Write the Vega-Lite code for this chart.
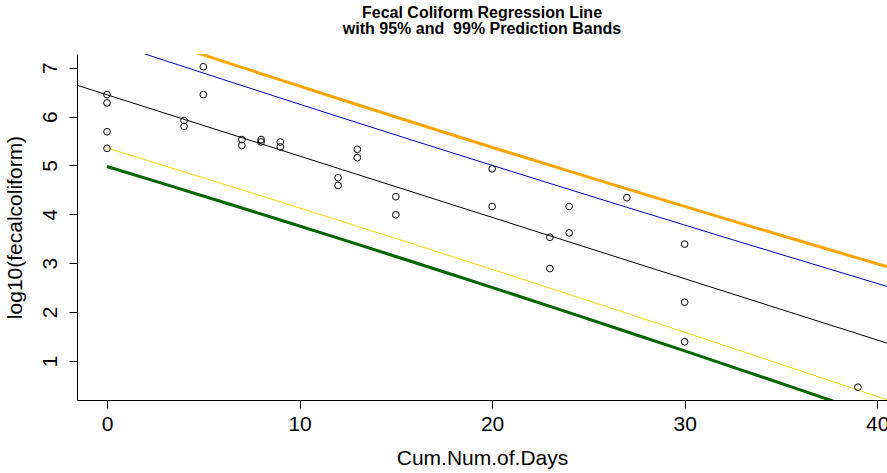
{
  "$schema": "https://vega.github.io/schema/vega-lite/v6.json",
  "autosize": {"type": "none"},
  "padding": {"left": 77, "top": 54, "right": 0, "bottom": 73},
  "width": 810,
  "height": 346,
  "background": "white",
  "config": {
    "view": {"stroke": null},
    "font": "Liberation Sans",
    "axis": {
      "grid": false,
      "domainColor": "black",
      "tickColor": "black",
      "labelColor": "black",
      "titleColor": "black",
      "labelFont": "Liberation Sans",
      "titleFont": "Liberation Sans",
      "labelFontSize": 21,
      "titleFontSize": 21,
      "titleFontWeight": "normal",
      "tickSize": 8,
      "labelBound": false,
      "labelFlush": false,
      "labelOverlap": false
    }
  },
  "title": {
    "text": ["Fecal Coliform Regression Line", "with 95% and \u00a099% Prediction Bands"],
    "font": "Liberation Sans",
    "fontSize": 16,
    "fontWeight": "bold",
    "color": "black",
    "anchor": "middle",
    "frame": "group",
    "baseline": "bottom",
    "lineHeight": 16,
    "offset": 1
  },
  "datasets": {
    "pts": [
      {"days": 0, "logfc": 6.45}, {"days": 0, "logfc": 6.28}, {"days": 0, "logfc": 5.69}, {"days": 0, "logfc": 5.35},
      {"days": 4, "logfc": 5.92}, {"days": 4, "logfc": 5.80},
      {"days": 5, "logfc": 7.02}, {"days": 5, "logfc": 6.45},
      {"days": 7, "logfc": 5.53}, {"days": 7, "logfc": 5.41},
      {"days": 8, "logfc": 5.53}, {"days": 8, "logfc": 5.48},
      {"days": 9, "logfc": 5.48}, {"days": 9, "logfc": 5.38},
      {"days": 12, "logfc": 4.75}, {"days": 12, "logfc": 4.59},
      {"days": 13, "logfc": 5.33}, {"days": 13, "logfc": 5.16},
      {"days": 15, "logfc": 4.36}, {"days": 15, "logfc": 3.99},
      {"days": 20, "logfc": 4.93}, {"days": 20, "logfc": 4.16},
      {"days": 23, "logfc": 3.53}, {"days": 23, "logfc": 2.89},
      {"days": 24, "logfc": 4.16}, {"days": 24, "logfc": 3.62},
      {"days": 27, "logfc": 4.34},
      {"days": 30, "logfc": 3.39}, {"days": 30, "logfc": 2.20}, {"days": 30, "logfc": 1.39},
      {"days": 39, "logfc": 0.46}
    ],
    "fit": [
      {"days": -1.56, "logfc": 6.643},
      {"days": 42, "logfc": 1.176}
    ],
    "bands": [
      {"band": "lwr99", "days": 0, "logfc": 4.979}, {"band": "lwr99", "days": 3, "logfc": 4.618}, {"band": "lwr99", "days": 6, "logfc": 4.253}, {"band": "lwr99", "days": 9, "logfc": 3.884}, {"band": "lwr99", "days": 12, "logfc": 3.512}, {"band": "lwr99", "days": 15, "logfc": 3.136}, {"band": "lwr99", "days": 18, "logfc": 2.757}, {"band": "lwr99", "days": 21, "logfc": 2.374}, {"band": "lwr99", "days": 24, "logfc": 1.987}, {"band": "lwr99", "days": 27, "logfc": 1.596}, {"band": "lwr99", "days": 30, "logfc": 1.203}, {"band": "lwr99", "days": 33, "logfc": 0.806}, {"band": "lwr99", "days": 36, "logfc": 0.405}, {"band": "lwr99", "days": 39, "logfc": 0.002}, {"band": "lwr99", "days": 42, "logfc": -0.404},
      {"band": "lwr95", "days": 0, "logfc": 5.358}, {"band": "lwr95", "days": 3, "logfc": 4.992}, {"band": "lwr95", "days": 6, "logfc": 4.624}, {"band": "lwr95", "days": 9, "logfc": 4.254}, {"band": "lwr95", "days": 12, "logfc": 3.881}, {"band": "lwr95", "days": 15, "logfc": 3.505}, {"band": "lwr95", "days": 18, "logfc": 3.126}, {"band": "lwr95", "days": 21, "logfc": 2.745}, {"band": "lwr95", "days": 24, "logfc": 2.360}, {"band": "lwr95", "days": 27, "logfc": 1.974}, {"band": "lwr95", "days": 30, "logfc": 1.584}, {"band": "lwr95", "days": 33, "logfc": 1.193}, {"band": "lwr95", "days": 36, "logfc": 0.798}, {"band": "lwr95", "days": 39, "logfc": 0.402}, {"band": "lwr95", "days": 42, "logfc": 0.004},
      {"band": "upr95", "days": 0, "logfc": 7.536}, {"band": "upr95", "days": 3, "logfc": 7.149}, {"band": "upr95", "days": 6, "logfc": 6.764}, {"band": "upr95", "days": 9, "logfc": 6.381}, {"band": "upr95", "days": 12, "logfc": 6.001}, {"band": "upr95", "days": 15, "logfc": 5.624}, {"band": "upr95", "days": 18, "logfc": 5.250}, {"band": "upr95", "days": 21, "logfc": 4.879}, {"band": "upr95", "days": 24, "logfc": 4.510}, {"band": "upr95", "days": 27, "logfc": 4.143}, {"band": "upr95", "days": 30, "logfc": 3.780}, {"band": "upr95", "days": 33, "logfc": 3.418}, {"band": "upr95", "days": 36, "logfc": 3.060}, {"band": "upr95", "days": 39, "logfc": 2.703}, {"band": "upr95", "days": 42, "logfc": 2.348},
      {"band": "upr99", "days": 0, "logfc": 7.915}, {"band": "upr99", "days": 3, "logfc": 7.524}, {"band": "upr99", "days": 6, "logfc": 7.135}, {"band": "upr99", "days": 9, "logfc": 6.751}, {"band": "upr99", "days": 12, "logfc": 6.370}, {"band": "upr99", "days": 15, "logfc": 5.993}, {"band": "upr99", "days": 18, "logfc": 5.619}, {"band": "upr99", "days": 21, "logfc": 5.249}, {"band": "upr99", "days": 24, "logfc": 4.883}, {"band": "upr99", "days": 27, "logfc": 4.521}, {"band": "upr99", "days": 30, "logfc": 4.161}, {"band": "upr99", "days": 33, "logfc": 3.805}, {"band": "upr99", "days": 36, "logfc": 3.453}, {"band": "upr99", "days": 39, "logfc": 3.103}, {"band": "upr99", "days": 42, "logfc": 2.756}
    ]
  },
  "layer": [
    {
      "mark": {"type": "rule", "color": "#666666", "strokeWidth": 1.5},
      "encoding": {"y": {"datum": 3}}
    },
    {
      "mark": {"type": "rule", "color": "black", "strokeWidth": 1},
      "encoding": {"y": {"datum": 7.282}}
    },
    {
      "data": {"name": "fit"},
      "mark": {"type": "line", "color": "black", "strokeWidth": 1, "clip": true},
      "encoding": {
        "x": {"field": "days", "type": "quantitative"},
        "y": {"field": "logfc", "type": "quantitative"}
      }
    },
    {
      "data": {"name": "bands"},
      "transform": [{"filter": "datum.band === 'lwr95' || datum.band === 'upr95'"}],
      "mark": {"type": "line", "clip": true, "strokeWidth": 1},
      "encoding": {
        "x": {"field": "days", "type": "quantitative"},
        "y": {"field": "logfc", "type": "quantitative"},
        "color": {"field": "band", "type": "nominal", "legend": null,
          "scale": {"domain": ["lwr99", "lwr95", "upr95", "upr99"], "range": ["#006400", "#FFD700", "#0000CD", "#FFA500"]}}
      }
    },
    {
      "data": {"name": "bands"},
      "transform": [{"filter": "datum.band === 'lwr99' || datum.band === 'upr99'"}],
      "mark": {"type": "line", "clip": true, "strokeWidth": 3},
      "encoding": {
        "x": {"field": "days", "type": "quantitative"},
        "y": {"field": "logfc", "type": "quantitative"},
        "color": {"field": "band", "type": "nominal", "legend": null,
          "scale": {"domain": ["lwr99", "lwr95", "upr95", "upr99"], "range": ["#006400", "#FFD700", "#0000CD", "#FFA500"]}}
      }
    },
    {
      "data": {"name": "pts"},
      "mark": {"type": "point", "shape": "circle", "filled": false, "color": "black", "strokeWidth": 1, "size": 45, "opacity": 1, "clip": true},
      "encoding": {
        "x": {"field": "days", "type": "quantitative",
          "scale": {"domain": [-1.56, 40.51], "nice": false, "zero": false},
          "axis": {"values": [0, 10, 20, 30, 40], "title": "Cum.Num.of.Days", "labelPadding": 5, "titlePadding": 13}},
        "y": {"field": "logfc", "type": "quantitative",
          "scale": {"domain": [0.198, 7.282], "nice": false, "zero": false},
          "axis": {"values": [1, 2, 3, 4, 5, 6, 7], "title": "log10(fecalcoliform)", "labelAngle": -90, "labelAlign": "center", "labelBaseline": "alphabetic", "labelPadding": 13, "titlePadding": 14}}
      }
    }
  ]
}
